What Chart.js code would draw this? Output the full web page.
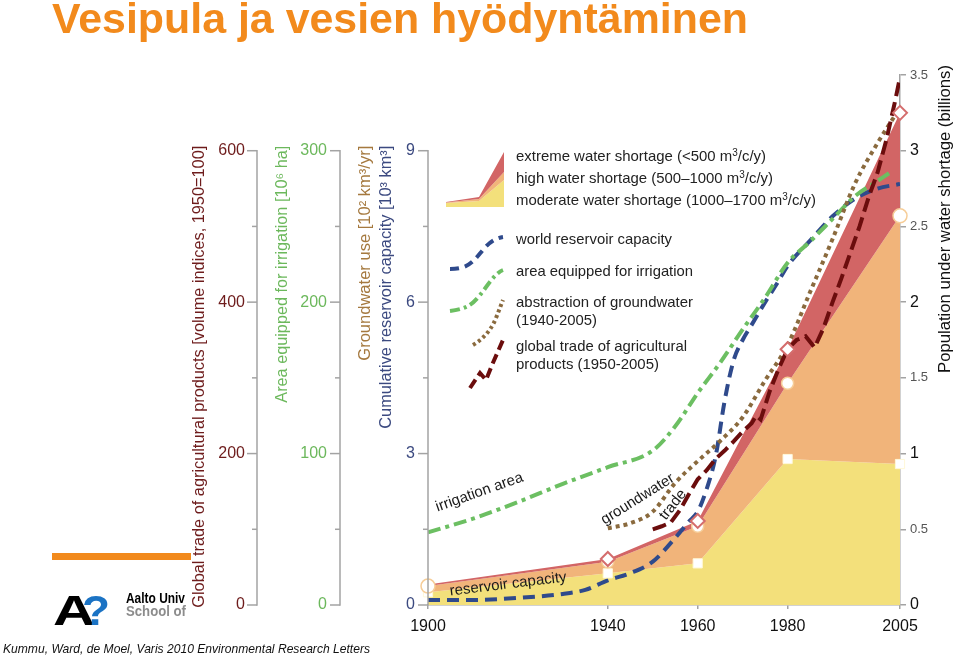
<!DOCTYPE html>
<html><head><meta charset="utf-8">
<script src="https://cdn.jsdelivr.net/npm/chart.js@4"></script>
<style>
html,body{margin:0;padding:0;background:#fff;}
#wrap{position:relative;width:960px;height:661px;overflow:hidden;background:#fff;font-family:"Liberation Sans",Arial,sans-serif;color:#1e1e1e;}
#c{position:absolute;left:0;top:0;z-index:1;}
.abs{position:absolute;white-space:nowrap;z-index:2;transform-origin:0 0;}
.lg{font-size:15px;line-height:15px;color:#222;}
.sup{font-size:10px;position:relative;top:-5px;}
.ann{font-size:15px;line-height:15px;color:#1a1a1a;transform-origin:50% 50%;}
</style></head>
<body>
<div id="wrap">
  <div class="abs fit" id="title" data-w="696" style="left:52px;top:-2px;font-family:'Liberation Sans Narrow','Arial Narrow','Liberation Sans',Arial;font-weight:bold;font-size:42px;line-height:42px;color:#f28a1c;">Vesipula ja vesien hyödyntäminen</div>
  <div class="abs" style="left:52px;top:553px;width:139px;height:7px;background:#f28a1c;"></div>
  <div class="abs fit" data-w="42" style="left:53px;top:589px;font-weight:bold;font-size:43px;line-height:43px;color:#000;">A</div>
  <div class="abs fit" data-w="28" style="left:82px;top:589px;font-weight:bold;font-size:43px;line-height:43px;color:#1b73c4;">?</div>
  <div class="abs fit" data-w="59" style="left:126px;top:591px;font-weight:bold;font-size:14px;line-height:14px;color:#000;">Aalto Univ</div>
  <div class="abs fit" data-w="60" style="left:126px;top:604px;font-weight:bold;font-size:14px;line-height:14px;color:#8c8c8c;">School of</div>
  <div class="abs fit" data-w="367" style="left:3px;top:642px;font-style:italic;font-size:13px;line-height:13px;color:#111;">Kummu, Ward, de Moel, Varis 2010 Environmental Research Letters</div>

  <!-- legend -->
  <svg class="abs" style="left:446px;top:150px" width="58" height="58" viewBox="0 0 58 58">
    <polygon points="0,57 0,53 33,51 58,30 58,57" fill="#f3e07b"/>
    <polygon points="0,53 33,51 58,30 58,22 33,49 0,52.5" fill="#f1b47a"/>
    <polygon points="0,52.5 33,49 58,22 58,2 33,47 0,52" fill="#d26565"/>
  </svg>
  <svg class="abs" style="left:440px;top:225px" width="70" height="170" viewBox="0 0 70 170">
    <path d="M10,44 C24,44 30,40 37,32 S50,14 63,12" fill="none" stroke="#2f4a8c" stroke-width="4" stroke-dasharray="9,6"/>
    <path d="M10,86 C26,84 32,80 40,70 S55,48 63,45" fill="none" stroke="#6cbf62" stroke-width="4" stroke-dasharray="10,4,3,4"/>
    <path d="M33,120 C45,113 52,103 56,93 S61,80 63,75" fill="none" stroke="#8a6a3e" stroke-width="4" stroke-dasharray="3,3"/>
    <path d="M30,163 L40,148 L46,155 L52,140 L63,115" fill="none" stroke="#6b0d0d" stroke-width="4" stroke-dasharray="10,5"/>
  </svg>
  <div class="abs lg fit" data-w="250" style="left:516px;top:148px;">extreme water shortage (&lt;500 m<span class="sup">3</span>/c/y)</div>
  <div class="abs lg fit" data-w="257" style="left:516px;top:170px;">high water shortage (500–1000 m<span class="sup">3</span>/c/y)</div>
  <div class="abs lg fit" data-w="300" style="left:516px;top:192px;">moderate water shortage (1000–1700 m<span class="sup">3</span>/c/y)</div>
  <div class="abs lg fit" data-w="156" style="left:516px;top:231px;">world reservoir capacity</div>
  <div class="abs lg fit" data-w="177" style="left:516px;top:263px;">area equipped for irrigation</div>
  <div class="abs lg fit" data-w="177" style="left:516px;top:294px;">abstraction of groundwater</div>
  <div class="abs lg fit" data-w="81" style="left:516px;top:312px;">(1940-2005)</div>
  <div class="abs lg fit" data-w="171" style="left:516px;top:338px;">global trade of agricultural</div>
  <div class="abs lg fit" data-w="143" style="left:516px;top:356px;">products (1950-2005)</div>

  <!-- in-plot labels -->
  <div class="abs ann" style="left:479px;top:491px;transform:translate(-50%,-50%) rotate(-19.5deg);">irrigation area</div>
  <div class="abs ann" style="left:508px;top:583px;transform:translate(-50%,-50%) rotate(-7deg);">reservoir capacity</div>
  <div class="abs ann" style="left:637px;top:498px;transform:translate(-50%,-50%) rotate(-32deg);">groundwater</div>
  <div class="abs ann" style="left:672px;top:504px;transform:translate(-50%,-50%) rotate(-52deg);">trade</div>

  <canvas id="c" width="960" height="661"></canvas>
</div>
<script>
// ---------------- data ----------------
const X_TICKS = [1900, 1940, 1960, 1980, 2005];
const TRADE_TICKS = [0, 200, 400, 600];
const IRRIG_TICKS = [0, 100, 200, 300];
const VOLUME_TICKS = [0, 3, 6, 9];
const POP_TICKS = [0, 0.5, 1, 1.5, 2, 2.5, 3, 3.5];

// population under water shortage (billions), per category
const SHORT_YEARS = [1900, 1940, 1960, 1980, 2005];
const MODERATE = [0.084, 0.209, 0.275, 0.964, 0.931];
const HIGH     = [0.041, 0.076, 0.245, 0.500, 1.639];
const EXTREME  = [0.010, 0.019, 0.035, 0.225, 0.680];

// cumulative reservoir capacity [10^3 km3]
const RES_YEARS = [1900,1910,1920,1930,1935,1940,1945,1950,1955,1958,1960,1962,1964,1966,1968,1970,1972,1975,1978,1980,1985,1990,1995,2000,2005];
const RESERVOIR = [0.10,0.10,0.14,0.22,0.30,0.49,0.63,0.86,1.33,1.65,1.85,2.30,2.95,4.05,4.85,5.25,5.55,6.00,6.42,6.72,7.22,7.70,8.05,8.25,8.34];

// area equipped for irrigation [10^6 ha]
const IRR_YEARS = [1900,1910,1920,1930,1940,1950,1955,1960,1965,1970,1975,1980,1985,1990,1995,2000,2003];
const IRRIGATION = [48,57,68,80,91,102,118,140,160,182,203,226,240,255,270,280,286];

// groundwater use [10^2 km3/yr]
const GW_YEARS = [1940,1945,1950,1955,1960,1965,1970,1975,1980,1985,1990,1995,2000,2005];
const GROUNDWATER = [1.52,1.62,1.85,2.42,2.85,3.25,3.72,4.45,5.15,6.20,7.25,8.35,9.15,9.85];

// global trade of agricultural products [volume index, 1950=100]
const TRADE_YEARS = [1950,1952,1954,1956,1958,1960,1962,1964,1966,1968,1970,1972,1973,1974,1976,1978,1980,1982,1984,1986,1988,1990,1992,1994,1996,1998,2000,2002,2004,2005];
const TRADE = [100,104,109,125,146,166,178,193,204,216,229,240,250,245,282,312,338,350,355,340,366,400,432,466,500,538,571,615,668,697];

// --------------- helpers ---------------
const F = '"Liberation Sans", Arial, sans-serif';
const pts = (xs, ys) => xs.map((x, i) => ({x, y: ys[i]}));
// stacked tops of the shortage bands (sum of the categories read above)
const stackTop = (...series) => SHORT_YEARS.map((_, i) => series.reduce((s, arr) => s + arr[i], 0));

document.querySelectorAll('.fit').forEach(el => {
  const w = el.getBoundingClientRect().width;
  const target = +el.dataset.w;
  const base = el.style.transform || '';
  el.style.transform = base + ' scaleX(' + (target / w) + ')';
});

const AXIS_TITLES = [
  {axis: 'yA', text: 'Global trade of agricultural products [volume indices, 1950=100]', color: '#6e1c1c', dx: 20, len: 462, top: TRADE_TICKS[3]},
  {axis: 'yB', text: 'Area equipped for irrigation [10\u2076 ha]', color: '#6cb85c', dx: 26, len: 257, top: IRRIG_TICKS[3]},
  {axis: 'yC', text: 'Groundwater use [10\u00b2 km\u00b3/yr]', color: '#a5793f', dx: 26, len: 215, top: VOLUME_TICKS[3]},
  {axis: 'yC', text: 'Cumulative reservoir capacity [10\u00b3 km\u00b3]', color: '#3c4a80', dx: 47, len: 283, top: VOLUME_TICKS[3]},
  {axis: 'yR', text: 'Population under water shortage (billions)', color: '#111', dx: 46, len: 308, top: null}
];

const decor = {
  id: 'decor',
  afterDraw(chart) {
    const ctx = chart.ctx;
    ctx.save();
    ctx.strokeStyle = '#a3a3a3';
    ctx.lineWidth = 1.5;
    [['yA', TRADE_TICKS], ['yB', IRRIG_TICKS], ['yC', VOLUME_TICKS]].forEach(([id, ticks]) => {
      const s = chart.scales[id];
      const x = s.right;
      ctx.beginPath();
      ctx.moveTo(x, s.getPixelForValue(ticks[0]) + 0.75);
      ctx.lineTo(x, s.getPixelForValue(ticks[ticks.length - 1]) - 0.75);
      ctx.stroke();
      ticks.forEach((v, i) => {
        const y = s.getPixelForValue(v);
        ctx.beginPath(); ctx.moveTo(x, y); ctx.lineTo(x - 10, y); ctx.stroke();
        if (i > 0) {
          const ym = s.getPixelForValue((v + ticks[i - 1]) / 2);
          ctx.beginPath(); ctx.moveTo(x, ym); ctx.lineTo(x - 5, ym); ctx.stroke();
        }
      });
    });
    AXIS_TITLES.forEach(t => {
      const s = chart.scales[t.axis];
      const yTop = t.top === null ? chart.chartArea.top - 10 : s.getPixelForValue(t.top) - 5;
      ctx.save();
      ctx.translate(s.left + t.dx, yTop);
      ctx.rotate(-Math.PI / 2);
      ctx.font = '16px ' + F;
      const w = ctx.measureText(t.text).width;
      ctx.scale(t.len / w, 1);
      ctx.textAlign = 'right';
      ctx.textBaseline = 'middle';
      ctx.fillStyle = t.color;
      ctx.fillText(t.text, 0, 0);
      ctx.restore();
    });
    ctx.restore();
  }
};

const leftAxis = (max, ticks, color, width, pad) => ({
  position: 'left', min: 0, max: max,
  afterBuildTicks: s => { s.ticks = ticks.map(v => ({value: v})); },
  afterFit: s => { s.width = width; },
  grid: {display: false, drawTicks: false},
  border: {display: false},
  ticks: {color: color, font: {size: 16, family: F}, padding: pad}
});

new Chart(document.getElementById('c'), {
  type: 'line',
  data: {
    datasets: [
      {label: 'moderate water shortage', data: pts(SHORT_YEARS, stackTop(MODERATE)), yAxisID: 'yR',
       fill: 'origin', backgroundColor: '#f3e07b', borderColor: 'rgba(0,0,0,0)', borderWidth: 0, clip: 12,
       pointStyle: 'rect', pointRadius: 6.5, pointBackgroundColor: '#fff', pointBorderColor: '#fff8d8', pointBorderWidth: 1, order: 2},
      {label: 'high water shortage', data: pts(SHORT_YEARS, stackTop(MODERATE, HIGH)), yAxisID: 'yR',
       fill: '-1', backgroundColor: '#f1b47a', borderColor: 'rgba(0,0,0,0)', borderWidth: 0, clip: 12,
       pointStyle: 'circle', pointRadius: [7, 6, 6, 6, 7], pointBackgroundColor: '#fff', pointBorderColor: '#f6cd98', pointBorderWidth: 1.5, order: 1},
      {label: 'extreme water shortage', data: pts(SHORT_YEARS, stackTop(MODERATE, HIGH, EXTREME)), yAxisID: 'yR',
       fill: '-1', backgroundColor: '#d26565', borderColor: 'rgba(0,0,0,0)', borderWidth: 0, clip: 12,
       pointStyle: 'rectRot', pointRadius: [0, 7, 7, 7, 7], pointBackgroundColor: '#fff', pointBorderColor: '#d46d6d', pointBorderWidth: 2, order: 0},
      {label: 'world reservoir capacity', data: pts(RES_YEARS, RESERVOIR), yAxisID: 'yC',
       borderColor: '#2f4a8c', borderWidth: 4, borderDash: [12, 7], pointRadius: 0, fill: false,
       cubicInterpolationMode: 'monotone', order: 13},
      {label: 'area equipped for irrigation', data: pts(IRR_YEARS, IRRIGATION), yAxisID: 'yB',
       borderColor: '#6cbf62', borderWidth: 4, borderDash: [13, 5, 4, 5], pointRadius: 0, fill: false,
       cubicInterpolationMode: 'monotone', order: 12},
      {label: 'abstraction of groundwater', data: pts(GW_YEARS, GROUNDWATER), yAxisID: 'yC',
       borderColor: '#8a6a3e', borderWidth: 4, borderDash: [4, 4], pointRadius: 0, fill: false,
       cubicInterpolationMode: 'monotone', order: 11},
      {label: 'global trade of agricultural products', data: pts(TRADE_YEARS, TRADE), yAxisID: 'yA',
       borderColor: '#6b0d0d', borderWidth: 4, borderDash: [14, 6], pointRadius: 0, fill: false, order: 10}
    ]
  },
  options: {
    responsive: false, animation: false, devicePixelRatio: 1,
    layout: {padding: {left: 180, top: 75, right: 0, bottom: 16}},
    plugins: {legend: {display: false}, tooltip: {enabled: false}, filler: {drawTime: 'beforeDatasetsDraw'}},
    scales: {
      x: {
        type: 'linear', min: 1900, max: 2005,
        afterBuildTicks: s => { s.ticks = X_TICKS.map(v => ({value: v})); },
        afterFit: s => { s.height = 40; },
        grid: {display: true, drawOnChartArea: false, tickLength: 4, color: '#a3a3a3', lineWidth: 1.5},
        border: {display: true, color: '#a3a3a3', width: 1.5},
        ticks: {color: '#111', font: {size: 16, family: F}, padding: 8, maxRotation: 0, autoSkip: false,
                callback: v => String(v)}
      },
      yC: leftAxis(10.5, VOLUME_TICKS, '#3c4a80', 88, 13),
      yB: leftAxis(350, IRRIG_TICKS, '#6cb85c', 83, 13),
      yA: leftAxis(700, TRADE_TICKS, '#6e1c1c', 77, 12),
      yR: {
        position: 'right', min: 0, max: 3.5,
        afterBuildTicks: s => { s.ticks = POP_TICKS.map(v => ({value: v})); },
        afterFit: s => { s.width = 60; },
        grid: {display: true, drawOnChartArea: false, tickLength: 6, color: '#a3a3a3', lineWidth: 1.5},
        border: {display: true, color: '#a3a3a3', width: 1.5},
        ticks: {
          padding: 4,
          color: c => (c.tick && c.tick.value % 1 === 0) ? '#111' : '#555',
          font: c => ({size: (c.tick && c.tick.value % 1 === 0) ? 16 : 13, family: F}),
          callback: v => String(v)
        }
      }
    }
  },
  plugins: [decor]
});
</script>
</body></html>
